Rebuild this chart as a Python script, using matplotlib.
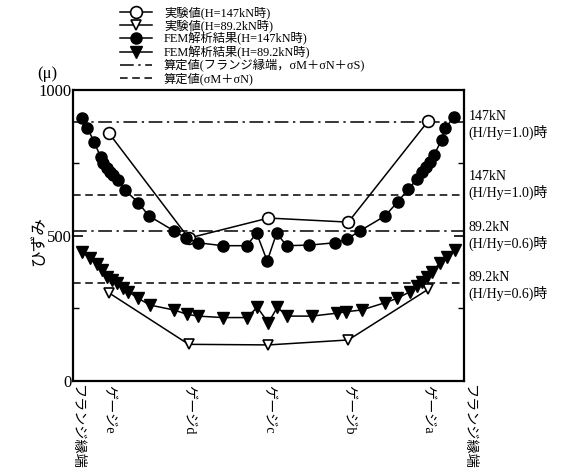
import matplotlib
matplotlib.use("Agg")
import matplotlib.pyplot as plt
from matplotlib.lines import Line2D
import matplotlib.transforms as mtrans

plt.rcParams['font.family'] = ['Liberation Serif', 'Noto Sans CJK JP', 'DejaVu Sans']

# ---- data ----
gauge_x = [-100, -50, 0, 50, 100]
exp147 = [852, 491, 560, 546, 893]
exp892 = [303, 126, 124, 141, 315]

fem147_x = [-117.0, -113.5, -109.3, -105.1, -103.5, -101.4, -99.3, -97.2, -94.1, -89.9,
            -81.6, -74.9, -59.2, -51.7, -44.0, -28.7, -13.7, -7.4, -0.8, 5.1,
            11.4, 25.4, 41.7, 49.0, 57.3, 73.0, 81.0, 87.6, 92.9, 96.0,
            98.7, 101.2, 103.7, 108.5, 110.6, 116.2]
fem147_y = [903, 870, 822, 769, 748, 731, 719, 708, 691, 656,
            613, 567, 516, 491, 475, 465, 465, 508, 412, 508,
            465, 467, 475, 487, 516, 567, 616, 659, 693, 719,
            736, 754, 777, 828, 868, 907]

fem892_x = [-117.0, -111.8, -107.7, -104.5, -101.4, -98.3, -95.1, -91.0, -87.8, -81.6,
            -74.3, -59.2, -50.9, -44.0, -28.7, -13.7, -7.0, -0.1, 5.5, 11.8,
            27.1, 42.7, 48.4, 58.4, 73.0, 80.7, 88.7, 92.9, 96.0, 99.1,
            102.3, 107.5, 111.7, 116.9]
fem892_y = [444, 422, 401, 381, 358, 347, 338, 319, 307, 284,
            261, 244, 229, 223, 218, 218, 253, 200, 253, 223,
            223, 233, 238, 244, 269, 284, 307, 327, 341, 358,
            376, 405, 427, 450]

calc_flange = [890, 516]   # dash-dot
calc_mn = [640, 336]       # dashed

tick_pos = [-122.5, -100, -50, 0, 50, 100, 122.5]
tick_labels = ['フランジ縁端', 'ゲージe', 'ゲージd', 'ゲージc', 'ゲージb', 'ゲージa', 'フランジ縁端']

legend_labels = ['実験値(H=147kN時)', '実験値(H=89.2kN時)',
                 'FEM解析結果(H=147kN時)', 'FEM解析結果(H=89.2kN時)',
                 '算定値(フランジ縁端，σM＋σN＋σS)', '算定値(σM＋σN)']

right_texts = [(880, '147kN\n(H/Hy=1.0)時'), (674, '147kN\n(H/Hy=1.0)時'),
               (498, '89.2kN\n(H/Hy=0.6)時'), (326, '89.2kN\n(H/Hy=0.6)時')]

# ---- figure ----
fig = plt.figure(figsize=(5.71, 4.72), dpi=100)
ax = fig.add_axes([0.1278, 0.1928, 0.6848, 0.6165])

dashdot = (0, (9, 3, 1.5, 3))
dashed = (0, (5, 3))
for v in calc_flange:
    ax.axhline(v, color='black', lw=1.1, ls=dashdot)
for v in calc_mn:
    ax.axhline(v, color='black', lw=1.1, ls=dashed)

l1, = ax.plot(gauge_x, exp147, color='black', lw=1.1, marker='o', ms=8.5,
              mfc='white', mec='black', mew=1.2, zorder=3)
l2, = ax.plot(gauge_x, exp892, color='black', lw=1.1, marker='v', ms=7,
              mfc='white', mec='black', mew=1.2, zorder=3)
l3, = ax.plot(fem147_x, fem147_y, color='black', lw=1.1, marker='o', ms=8,
              mfc='black', mec='black', zorder=4)
l4, = ax.plot(fem892_x, fem892_y, color='black', lw=1.1, marker='v', ms=8.5,
              mfc='black', mec='black', zorder=4)

ax.set_xlim(-122.5, 122.5)
ax.set_ylim(0, 1000)
ax.set_yticks([0, 500, 1000])
ax.set_yticks([250, 750], minor=True)
ax.set_yticklabels(['0', '500', '1000'], fontsize=12)
ax.tick_params(axis='y', which='major', direction='in', length=7, width=1.2, left=True, right=True, pad=1)
ax.tick_params(axis='y', which='minor', direction='in', length=4, width=1.0, left=True, right=True)
ax.set_xticks(tick_pos)
ax.set_xticklabels(tick_labels, rotation=-90, fontsize=10.2, va='top', ha='center')
ax.tick_params(axis='x', direction='in', length=0, pad=3)
for s in ax.spines.values():
    s.set_linewidth(1.6)

# nudge the flange-edge labels slightly right, as in the reference
xl = ax.get_xticklabels()
shift = mtrans.ScaledTranslation(4 / 100, 0, fig.dpi_scale_trans)
for lab in (xl[0], xl[-1]):
    lab.set_transform(lab.get_transform() + shift)

fig.text(0.068, 0.49, 'ひずみ', rotation=90, fontsize=12, ha='center', va='center')
fig.text(0.083, 0.843, '(μ)', fontsize=12, ha='center', va='center')

trans = mtrans.blended_transform_factory(ax.transAxes, ax.transData)
for yv, t in right_texts:
    ax.text(1.012, yv, t, transform=trans, fontsize=10, ha='left', va='center',
            linespacing=1.15, clip_on=False)

h5 = Line2D([], [], color='black', lw=1.1, ls=dashdot)
h6 = Line2D([], [], color='black', lw=1.1, ls=dashed)
fig.legend([l1, l2, l3, l4, h5, h6], legend_labels, loc='upper left',
           bbox_to_anchor=(0.195, 1.005), frameon=False, fontsize=8.8,
           handlelength=2.6, handletextpad=1.0, labelspacing=0.02, borderpad=0.2)

fig.savefig('out.png', dpi=100)
